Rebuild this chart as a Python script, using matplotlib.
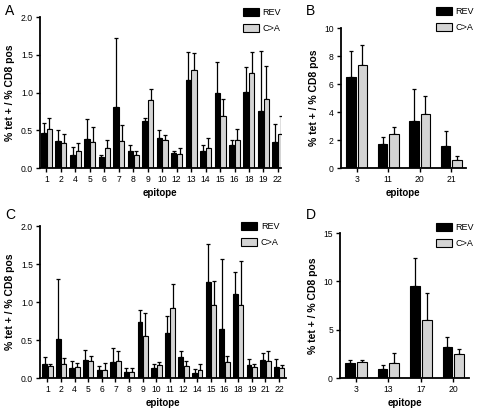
import numpy as np
import matplotlib.pyplot as plt

plt.rcParams['font.family'] = ['Liberation Sans', 'DejaVu Sans']

# panel A
ep_a = ['1', '2', '4', '5', '6', '7', '8', '9', '10', '12', '13', '14', '15', '16', '18', '19', '22']
rev_a = [0.47, 0.36, 0.17, 0.38, 0.15, 0.81, 0.23, 0.62, 0.40, 0.20, 1.17, 0.23, 1.00, 0.30, 1.01, 0.75, 0.35]
rev_a_top = [0.60, 0.51, 0.28, 0.65, 0.17, 1.72, 0.31, 0.66, 0.50, 0.23, 1.54, 0.30, 1.40, 0.37, 1.34, 1.55, 0.58]
ca_a = [0.52, 0.33, 0.22, 0.35, 0.27, 0.36, 0.17, 0.90, 0.37, 0.19, 1.30, 0.27, 0.69, 0.37, 1.26, 0.92, 0.45]
ca_a_top = [0.66, 0.45, 0.33, 0.55, 0.37, 0.57, 0.23, 1.05, 0.44, 0.26, 1.53, 0.40, 0.92, 0.52, 1.54, 1.35, 0.69]

# panel B
ep_b = ['3', '11', '20', '21']
rev_b = [6.48, 1.71, 3.38, 1.55]
rev_b_top = [8.35, 2.24, 5.65, 2.62]
ca_b = [7.35, 2.45, 3.88, 0.60]
ca_b_top = [8.78, 2.93, 5.12, 0.83]

# panel C
ep_c = ['1', '2', '4', '5', '6', '7', '8', '9', '10', '11', '12', '14', '15', '16', '18', '19', '21', '22']
rev_c = [0.19, 0.51, 0.13, 0.24, 0.10, 0.21, 0.08, 0.74, 0.13, 0.59, 0.28, 0.06, 1.27, 0.65, 1.10, 0.17, 0.24, 0.14]
rev_c_top = [0.28, 1.30, 0.22, 0.37, 0.16, 0.39, 0.13, 0.90, 0.18, 0.81, 0.36, 0.12, 1.76, 1.56, 1.39, 0.25, 0.33, 0.25]
ca_c = [0.16, 0.18, 0.15, 0.22, 0.11, 0.23, 0.08, 0.55, 0.17, 0.92, 0.16, 0.11, 0.96, 0.21, 0.96, 0.15, 0.23, 0.13]
ca_c_top = [0.19, 0.26, 0.20, 0.29, 0.20, 0.35, 0.13, 0.86, 0.21, 1.24, 0.22, 0.18, 1.28, 0.29, 1.54, 0.18, 0.36, 0.17]

# panel D
ep_d = ['3', '13', '17', '20']
rev_d = [1.56, 0.90, 9.55, 3.23]
rev_d_top = [1.87, 1.32, 12.47, 4.24]
ca_d = [1.63, 1.53, 6.04, 2.47]
ca_d_top = [1.87, 2.57, 8.82, 2.99]

GRAY = '#d4d4d4'

fig = plt.figure(figsize=(4.8, 4.08), dpi=100)


def panel(rect, labels, rev, rev_top, ca, ca_top, ylim, yticks, fmt, w, off, xlim, letter, lpos, legend_xy):
    ax = fig.add_axes(rect)
    x = np.arange(len(labels))
    rev = np.array(rev)
    ca = np.array(ca)
    ax.bar(x - off, rev, w, color='black', edgecolor='black', linewidth=0.8, label='REV', zorder=2)
    ax.bar(x + off, ca, w, color=GRAY, edgecolor='black', linewidth=0.8, label='C>A', zorder=2)
    ax.errorbar(x - off, rev, yerr=[np.zeros_like(rev), np.array(rev_top) - rev],
                fmt='none', ecolor='black', elinewidth=0.9, capsize=1.5, capthick=0.9, zorder=1)
    ax.errorbar(x + off, ca, yerr=[np.zeros_like(ca), np.array(ca_top) - ca],
                fmt='none', ecolor='black', elinewidth=0.9, capsize=1.5, capthick=0.9, zorder=1)
    ax.set_xlim(*xlim)
    ax.set_ylim(*ylim)
    ax.set_yticks(yticks)
    ax.set_yticklabels([fmt.format(v) for v in yticks])
    ax.set_xticks(x)
    ax.set_xticklabels(labels)
    for s in ['top', 'right']:
        ax.spines[s].set_visible(False)
    for s in ['left', 'bottom']:
        ax.spines[s].set_linewidth(1.3)
    ax.tick_params(labelsize=6.2, width=1.0, length=3, pad=2)
    ax.set_xlabel('epitope', fontsize=7, fontweight='bold', labelpad=3)
    ax.set_ylabel('% tet + / % CD8 pos', fontsize=7.5, fontweight='bold', labelpad=4)
    fig.text(lpos[0], lpos[1], letter, fontsize=10, va='top', ha='left')
    ax.legend(loc='upper left', bbox_to_anchor=legend_xy, bbox_transform=fig.transFigure,
              frameon=False, fontsize=6.5, handlelength=1.75, handleheight=1.0,
              handletextpad=0.45, labelspacing=0.75, borderpad=0, borderaxespad=0)
    return ax


panel([0.083, 0.588, 0.502, 0.37], ep_a, rev_a, rev_a_top, ca_a, ca_a_top,
      (0, 2.0), [0, 0.5, 1.0, 1.5, 2.0], '{:.1f}', 0.36, 0.2, (-0.46, 16.2),
      'A', (0.01, 0.99), (0.506, 0.980))
panel([0.710, 0.588, 0.26, 0.343], ep_b, rev_b, rev_b_top, ca_b, ca_b_top,
      (0, 10), [0, 2, 4, 6, 8, 10], '{:d}', 0.3, 0.18, (-0.5, 3.45),
      'B', (0.638, 0.99), (0.908, 0.983))
panel([0.083, 0.0735, 0.5125, 0.3725], ep_c, rev_c, rev_c_top, ca_c, ca_c_top,
      (0, 2.0), [0, 0.5, 1.0, 1.5, 2.0], '{:.1f}', 0.36, 0.2, (-0.55, 17.5),
      'C', (0.01, 0.49), (0.502, 0.456))
panel([0.708, 0.0735, 0.27, 0.355], ep_d, rev_d, rev_d_top, ca_d, ca_d_top,
      (0, 15), [0, 5, 10, 15], '{:d}', 0.3, 0.18, (-0.5, 3.5),
      'D', (0.638, 0.49), (0.908, 0.453))

fig.savefig('out.png', dpi=100)
